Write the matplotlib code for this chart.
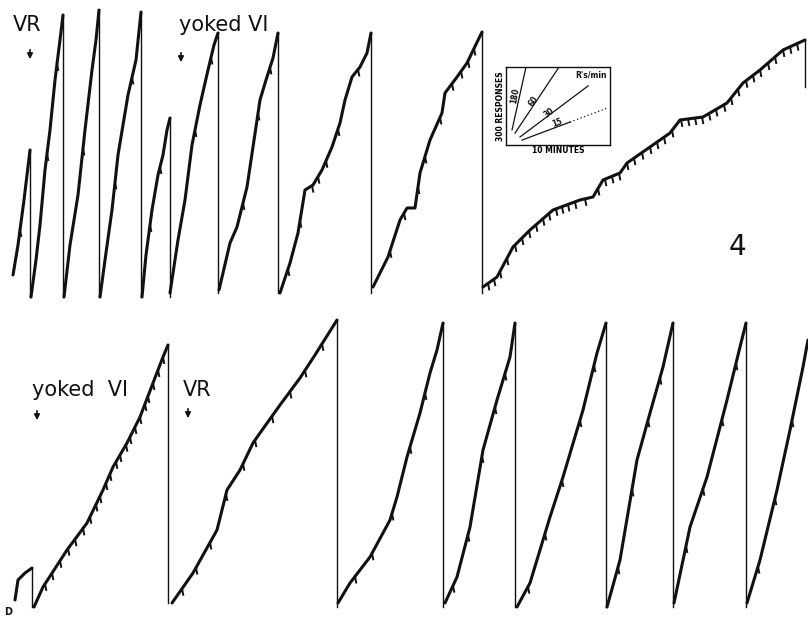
import numpy as np
import matplotlib
matplotlib.use("Agg")
import matplotlib.pyplot as plt

W, H = 808, 617

# pen excursions of the upper strip (x = time, y = pen height, paper units, y down)
top_x = [
    [13, 18, 24, 30],
    [31, 36, 40, 45, 50, 55, 60, 63],
    [64, 70, 78, 85, 92, 96, 99],
    [100, 105, 112, 118, 128, 136, 141],
    [142, 146, 152, 158, 163, 167, 170],
    [170, 178, 185, 192, 200, 208, 214, 218],
    [219, 230, 237, 247, 253, 260, 266, 273, 278],
    [280, 290, 298, 305, 313, 322, 332, 340, 345, 352, 360, 367, 371],
    [373, 388, 400, 407, 415, 420, 430, 442, 445, 457, 467, 482],
    [483, 497, 513, 530, 553, 580, 593, 603, 620, 627, 650, 670, 680, 703,
     727, 743, 760, 783, 805],
]
top_y = [
    [275, 245, 200, 150],
    [297, 260, 225, 170, 130, 80, 40, 15],
    [297, 245, 195, 130, 70, 40, 10],
    [297, 260, 210, 155, 95, 60, 12],
    [297, 255, 210, 175, 155, 130, 118],
    [293, 240, 200, 145, 105, 70, 45, 33],
    [290, 243, 227, 187, 147, 100, 80, 58, 33],
    [293, 263, 233, 190, 185, 170, 147, 123, 100, 77, 67, 53, 33],
    [287, 257, 220, 208, 208, 173, 140, 113, 93, 77, 63, 32],
    [287, 277, 247, 230, 210, 200, 197, 180, 173, 163, 147, 133, 120, 117,
     103, 83, 70, 50, 40],
]
top_reset = [297, 297, 297, 297, 297, 293, 293, 293, 293, 87]

# lower strip
bot_x = [
    [15, 18, 25, 32],
    [34, 43, 67, 87, 103, 113, 127, 140, 153, 163, 168],
    [172, 193, 217, 227, 240, 253, 260, 280, 300, 315, 337],
    [338, 350, 370, 390, 397, 407, 420, 430, 437, 443],
    [445, 457, 470, 483, 497, 510, 515],
    [517, 530, 550, 563, 583, 597, 606],
    [607, 620, 637, 650, 663, 673],
    [674, 690, 707, 727, 740, 746],
    [747, 760, 777, 790, 803, 808],
]
bot_y = [
    [600, 580, 573, 568],
    [607, 587, 550, 523, 490, 467, 443, 417, 383, 357, 345],
    [603, 573, 530, 490, 470, 443, 433, 405, 378, 355, 320],
    [603, 583, 557, 520, 497, 457, 413, 373, 350, 323],
    [603, 577, 527, 450, 400, 357, 323],
    [607, 583, 517, 477, 410, 353, 323],
    [607, 560, 460, 413, 367, 323],
    [603, 527, 477, 400, 347, 323],
    [603, 560, 490, 430, 367, 340],
]
bot_reset = [607, 603, 607, 607, 607, 607, 607, 607, None]

# reinforcement pips
top_pips = [20, 47, 57, 83, 115, 132, 150, 160, 195, 211, 243, 258, 270,
            288, 300, 312, 318, 326, 338, 358, 390, 404, 418, 425, 440, 452,
            461, 468, 474,
            488, 494, 500, 507, 515, 522, 529, 536, 543, 549, 556, 562, 568,
            575, 585, 598, 605, 612, 619, 627, 634, 642, 650, 657, 664, 672,
            681, 688, 695, 702, 709, 716, 724, 731, 738, 746, 753, 760, 768,
            775, 783, 790, 797]
bot_pips = [45, 52, 60, 68, 75, 83, 90, 96, 100, 106, 110, 116, 120, 126,
            130, 135, 140, 145, 148, 153, 158, 163,
            182, 196, 210, 226, 243, 255, 272, 290, 305, 322,
            355, 372, 392, 410, 425, 453, 468, 482, 495, 505,
            528, 545, 562, 580, 594, 618, 632, 648, 660,
            686, 703, 722, 736, 758, 775, 792]

# inset: rate guide (responses per minute)
rates = [180, 60, 30, 15]
rate_x0 = [0.58, 0.87, 1.35, 1.54]
rate_y0 = [58, 46, 31, 19]
rate_x1 = [None, None, 7.9, 6.15]
rate_dotted_to = [None, None, None, 9.7]

fig = plt.figure(figsize=(W / 100, H / 100), dpi=100)
ax = fig.add_axes([0, 0, 1, 1])
ax.set_xlim(0, W)
ax.set_ylim(H, 0)
ax.axis("off")

ink = "#111111"


def draw_strip(xs_list, ys_list, resets, pips):
    for xs, ys, r in zip(xs_list, ys_list, resets):
        ax.plot(xs, ys, color=ink, lw=2.2, solid_capstyle="round",
                solid_joinstyle="round")
        if r is not None:
            ax.plot([xs[-1], xs[-1]], [ys[-1], r], color=ink, lw=1.0)
    for p in pips:
        for xs, ys in zip(xs_list, ys_list):
            if xs[0] <= p <= xs[-1]:
                y = np.interp(p, xs, ys)
                ax.plot([p, p + 1.2], [y, y + 6], color=ink, lw=1.4)
                break


draw_strip(top_x, top_y, top_reset, top_pips)
draw_strip(bot_x, bot_y, bot_reset, bot_pips)

# labels and event arrows
lab = dict(color=ink, fontsize=15, family="DejaVu Sans", va="baseline")
ax.text(13, 31, "VR", **lab)
ax.text(179, 31, "yoked VI", **lab)
ax.text(32, 396, "yoked  VI", **lab)
ax.text(183, 396, "VR", **lab)
ax.text(729, 255, "4", color=ink, fontsize=20, family="DejaVu Sans")
ax.text(4, 615, "D", color=ink, fontsize=7, fontweight="bold", va="baseline")

arrow = dict(arrowstyle="-|>", lw=1.2, color=ink, mutation_scale=8)
for x, y0 in [(30, 47), (181, 50), (37, 408), (188, 406)]:
    ax.annotate("", xy=(x, y0 + 15), xytext=(x, y0), arrowprops=arrow)

# inset rate key
ins = fig.add_axes([506 / W, 1 - 145 / H, 104 / W, 78 / H])
ins.set_xlim(0, 10)
ins.set_ylim(0, 300)
ins.set_xticks([])
ins.set_yticks([])
for s in ins.spines.values():
    s.set_linewidth(1.0)
    s.set_color(ink)
for r, x0, y0, x1, xd in zip(rates, rate_x0, rate_y0, rate_x1, rate_dotted_to):
    if x1 is None:
        x1 = x0 + (300 - y0) / r
    ins.plot([x0, x1], [y0, y0 + r * (x1 - x0)], color=ink, lw=0.9)
    if xd is not None:
        ins.plot([x1, xd], [y0 + r * (x1 - x0), y0 + r * (xd - x0)],
                 color=ink, lw=0.9, ls=(0, (1, 2)))
small = dict(color=ink, fontsize=5.5, fontweight="bold", ha="center",
             va="center")
ins.text(0.85, 190, "180", rotation=80, **small)
ins.text(2.6, 168, "60", rotation=55, **small)
ins.text(4.1, 125, "30", rotation=38, **small)
ins.text(4.9, 87, "15", rotation=20, **small)
ins.text(8.2, 268, "R's/min", **small)
ins.set_ylabel("300 RESPONSES", fontsize=5.5, fontweight="bold", labelpad=1)
ins.set_xlabel("10 MINUTES", fontsize=5.5, fontweight="bold", labelpad=1)

fig.savefig("out.png", dpi=100)
